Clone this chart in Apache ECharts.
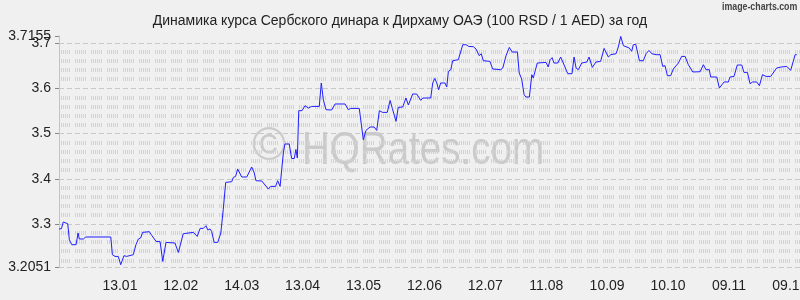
<!DOCTYPE html>
<html>
<head>
<meta charset="utf-8">
<script src="https://cdn.jsdelivr.net/npm/echarts@6/dist/echarts.min.js"></script>
<style>html,body{margin:0;padding:0;background:#f0f0f0}#c{width:800px;height:300px}</style>
</head>
<body>
<div id="c"></div>
<script>
// Day offsets from 14.12 (start of the year window)
const days = [0,1.2,2.1,4.3,5.1,6.3,8.4,9.4,10,12,13.2,25.5,26.3,27.6,29.2,30.4,32,33.3,36.6,37.9,39.1,40.2,41.2,44.5,45.7,47.8,49.8,51.1,52.7,57.1,58.8,60,61.2,66.2,68.1,69.5,71.1,72.4,73.3,74.4,75.2,76.4,78.2,79.7,80.9,82.1,85.1,85.9,87,88,90,92.5,94.9,96.2,97,99.9,103.1,104.3,106.7,107.7,108.9,110.5,111.3,113.4,114.6,115.9,116.7,117.4,118.1,119.7,121.2,122.8,124.5,128.2,129.2,130.2,131.5,134.3,136,140.9,142.5,143.7,147.9,149.9,151.2,153.2,155.2,156.5,157.8,159.4,161.7,163.1,164.2,166,167.1,169.3,170.9,172.1,174.2,176.2,178.2,179.2,183.1,184.1,185.1,186.1,187,188,190.1,191,191.8,193,193.9,196.7,198.9,200.5,201.8,204.1,205.4,207,208,209,212.3,213.6,217.6,218.6,220.2,221.8,223.2,225.8,226.7,227.9,229.1,230,231.7,232.9,233.6,234.5,235.6,239.9,241,241.9,242.9,243.8,245.7,247.1,248.4,250.6,252.7,253.7,254.7,255.8,257.5,260,261.1,262.7,264.5,266.8,268.5,270.6,271.8,274.4,275.5,276.7,278,280.9,282.1,282.9,284.1,285.9,287.8,289.2,290.6,292,294.1,296.1,297.4,298.5,299.7,301.3,302.6,305.1,306.7,308.4,310,312.2,315.8,317.4,318.7,320.3,321,324,325.3,327.6,329.7,330.5,332.5,334.1,336.3,337.4,339.1,340.4,341.7,343.7,345,346.5,348.3,350.6,353.5,355.7,358.5,360.4,362.6,363.4];
const rates = [3.2891,3.2897,3.3045,3.3008,3.2654,3.2544,3.2544,3.2802,3.2670,3.2670,3.2714,3.2714,3.2323,3.2285,3.2285,3.2102,3.2301,3.2285,3.2323,3.2544,3.2670,3.2692,3.2816,3.2831,3.2749,3.2617,3.2610,3.2175,3.2595,3.2581,3.2374,3.2581,3.2787,3.2816,3.2727,3.2904,3.2904,3.2964,3.2868,3.2891,3.2838,3.2595,3.2595,3.2802,3.3317,3.3920,3.3936,3.4031,3.4053,3.4216,3.4040,3.4040,3.4261,3.4128,3.3958,3.3951,3.3774,3.3832,3.3832,3.3958,3.3832,3.4570,3.4769,3.4769,3.4448,3.4448,3.4649,3.4459,3.5505,3.5505,3.5615,3.5564,3.5599,3.5599,3.6117,3.5748,3.5527,3.5520,3.5653,3.5653,3.5527,3.5555,3.5555,3.4864,3.5069,3.5144,3.5144,3.5069,3.5505,3.5467,3.5467,3.5732,3.5555,3.5268,3.5577,3.5586,3.5785,3.5630,3.5873,3.5873,3.5732,3.5785,3.5785,3.6117,3.6218,3.6117,3.5968,3.6117,3.6117,3.6028,3.6373,3.6410,3.6609,3.6631,3.6963,3.6963,3.6925,3.6919,3.6868,3.6720,3.6764,3.6609,3.6594,3.6426,3.6410,3.6448,3.6720,3.6903,3.6801,3.6801,3.6337,3.6205,3.5858,3.5807,3.5807,3.6300,3.6227,3.6240,3.6558,3.6572,3.6470,3.6631,3.6676,3.6558,3.6558,3.6691,3.6558,3.6322,3.6322,3.6691,3.6448,3.6410,3.6558,3.6581,3.6691,3.6461,3.6581,3.6594,3.6881,3.6691,3.6742,3.6764,3.6912,3.7146,3.6941,3.6890,3.6815,3.6963,3.6970,3.6609,3.6609,3.6764,3.6837,3.6764,3.6742,3.6742,3.6483,3.6499,3.6278,3.6278,3.6426,3.6558,3.6704,3.6704,3.6521,3.6360,3.6366,3.6521,3.6410,3.6410,3.6249,3.6249,3.6006,3.6139,3.6139,3.6249,3.6262,3.6514,3.6514,3.6351,3.6351,3.6101,3.6139,3.6139,3.6057,3.6300,3.6262,3.6262,3.6448,3.6470,3.6483,3.6395,3.6742,3.6742];
// X tick labels at every 30 days (day 30, 60, ... 360)
const xTickLabels = ['13.01','12.02','14.03','13.04','13.05','12.06','12.07','11.08','10.09','10.10','09.11','09.12'];
const yMin = 3.2051, yMax = 3.7155;
const yTickValues = [3.2051, 3.3, 3.4, 3.5, 3.6, 3.7];
const yTopTick = [3.7155];
const titleText = 'Динамика курса Сербского динара к Дирхаму ОАЭ (100 RSD / 1 AED) за год';

const seriesData = days.map((d, i) => [d, rates[i]]);
const labelFont = {fontFamily: 'Liberation Sans, Arial, sans-serif', fontSize: 14, color: '#222'};
const wmColor = 'rgba(150,150,150,0.42)';
const chart = echarts.init(document.getElementById('c'), null, {renderer: 'canvas'});
chart.setOption({
  backgroundColor: '#f0f0f0',
  animation: false,
  title: {
    text: titleText, left: 'center', top: 9,
    textStyle: {fontFamily: 'Liberation Sans, Arial, sans-serif', fontSize: 14, fontWeight: 'normal', color: '#222'}
  },
  graphic: [
    {type: 'text', x: 722, y: 1, scaleX: 0.8, z: 10,
     style: {text: 'image-charts.com', align: 'left', verticalAlign: 'top', fontFamily: 'Liberation Sans, sans-serif', fontSize: 11, fontWeight: 'bold', fill: '#444'}},
    {type: 'text', x: 252, y: 124, z: 0,
     style: {text: '©', align: 'left', verticalAlign: 'top', fontFamily: 'Liberation Sans, Arial, sans-serif', fontSize: 46, fill: wmColor}},
    {type: 'text', x: 302, y: 128, scaleX: 0.82, z: 0,
     style: {text: 'HQRates.com', align: 'left', verticalAlign: 'top', fontFamily: 'Liberation Sans, Arial, sans-serif', fontSize: 47, fill: wmColor}}
  ],
  grid: {left: 59, right: 0, top: 36, bottom: 33, containLabel: false, outerBoundsMode: 'none'},
  xAxis: {
    type: 'value', min: 0, max: 365, interval: 30,
    axisLine: {show: false}, axisTick: {show: false}, splitLine: {show: false},
    axisLabel: Object.assign({
      showMinLabel: false, showMaxLabel: false, margin: 12, hideOverlap: false,
      formatter: v => (v % 30 === 0 && v > 0) ? (xTickLabels[v / 30 - 1] || '') : ''
    }, labelFont)
  },
  yAxis: [{
    type: 'value', min: yMin, max: yMax, splitNumber: 5,
    axisLine: {show: true, lineStyle: {color: '#c4c4c4'}},
    axisTick: {show: true, length: 4, lineStyle: {color: '#888'}, customValues: yTickValues},
    axisLabel: Object.assign({
      customValues: yTickValues, margin: 8, hideOverlap: false,
      formatter: v => String(+(+v).toFixed(4))
    }, labelFont),
    splitLine: {show: true, lineStyle: {color: '#c8c8c8', type: [5, 3], width: 1}},
    minorTick: {show: false, splitNumber: 5},
    minorSplitLine: {show: true, lineStyle: {color: '#d2d2d2', width: 4, type: [1,1,1,1,1,1,1,1,1,1,1,5]}}
  }, {
    type: 'value', min: yMin, max: yMax, position: 'left', offset: 0,
    axisLine: {show: false}, splitLine: {show: false},
    axisTick: {show: true, length: 4, lineStyle: {color: '#888'}, customValues: yTopTick},
    axisLabel: Object.assign({
      customValues: yTopTick, margin: 8, hideOverlap: false,
      formatter: v => String(+(+v).toFixed(4))
    }, labelFont)
  }],
  series: [{
    type: 'line', data: seriesData, showSymbol: false, symbol: 'none', yAxisIndex: 0,
    lineStyle: {color: '#1f1fff', width: 1}, z: 5
  }]
});
</script>
</body>
</html>
